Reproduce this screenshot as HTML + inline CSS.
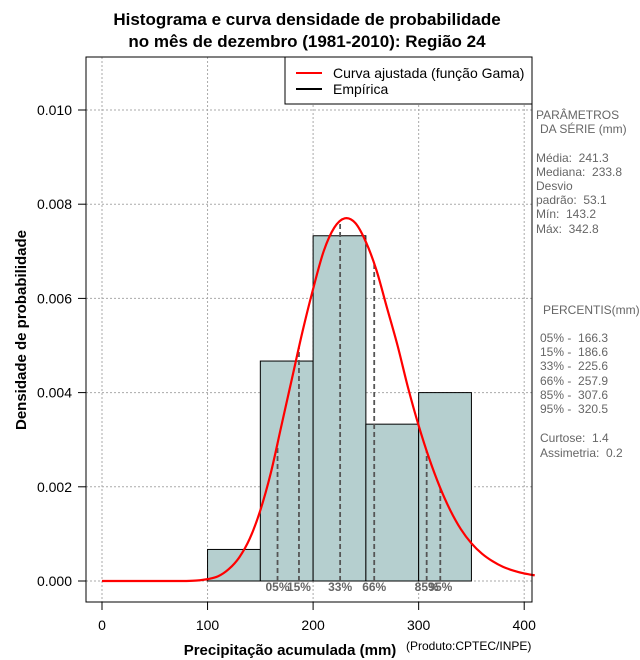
<!DOCTYPE html>
<html><head><meta charset="utf-8"><style>
body{margin:0;background:#fff;}
svg{display:block;font-family:"Liberation Sans",sans-serif;}
text{white-space:pre;}
</style></head><body>
<svg id="c" width="640" height="660">
<text x="307" y="25" text-anchor="middle" font-size="17" font-weight="bold">Histograma e curva densidade de probabilidade</text>
<text x="307" y="47" text-anchor="middle" font-size="17" font-weight="bold">no mês de dezembro (1981-2010): Região 24</text>
<g id="grid"></g><g id="bars"></g><g id="pct"></g><g id="curve"></g><g id="axes"></g>
<rect x="86" y="57" width="446" height="545" fill="none" stroke="#000"/>
<g>
<rect x="285" y="57" width="247" height="47" fill="#fff" stroke="#000"/>
<line x1="296" y1="73" x2="322" y2="73" stroke="red" stroke-width="2"/>
<text x="333" y="78" font-size="14">Curva ajustada (função Gama)</text>
<line x1="296" y1="89" x2="322" y2="89" stroke="#000" stroke-width="2"/>
<text x="333" y="94" font-size="14">Empírica</text>
</g>
<g font-size="12" fill="#666">
<text x="536" y="119">PARÂMETROS</text><text x="540" y="133">DA SÉRIE (mm)</text>
<text x="536" y="162">Média:  241.3</text><text x="536" y="176">Mediana:  233.8</text>
<text x="536" y="190">Desvio</text><text x="536" y="204">padrão:  53.1</text>
<text x="536" y="218">Mín:  143.2</text><text x="536" y="233">Máx:  342.8</text>
<text x="543" y="314">PERCENTIS(mm)</text>
<text x="540" y="342">05% -  166.3</text><text x="540" y="356">15% -  186.6</text>
<text x="540" y="370">33% -  225.6</text><text x="540" y="385">66% -  257.9</text>
<text x="540" y="399">85% -  307.6</text><text x="540" y="413">95% -  320.5</text>
<text x="540" y="442">Curtose:  1.4</text><text x="540" y="457">Assimetria:  0.2</text>
</g>
<text x="290" y="655" text-anchor="middle" font-size="15" font-weight="bold">Precipitação acumulada (mm)</text>
<text x="406" y="650" font-size="12">(Produto:CPTEC/INPE)</text>
<text transform="translate(26,330) rotate(-90)" text-anchor="middle" font-size="15" font-weight="bold">Densidade de probabilidade</text>
</svg>
<script>
const binStarts=[100,150,200,250,300];
const binWidth=50;
const binDensity=[0.00067,0.00467,0.00733,0.00333,0.004];
const curveX=[0,10,20,30,40,50,60,70,80,90,100,110,120,130,140,150,160,170,180,190,200,210,220,230,240,250,260,270,280,290,300,310,320,330,340,350,360,370,380,390,400,410];
const curveY=[0,0,0,0,0,0,0,0,0,0.00001,0.00004,0.0001,0.00025,0.0005,0.0009,0.0015,0.0023,0.0033,0.0043,0.0053,0.0062,0.007,0.0075,0.0077,0.0076,0.0072,0.0066,0.0058,0.005,0.0041,0.0033,0.0026,0.002,0.0015,0.0011,0.0008,0.00058,0.00042,0.0003,0.00022,0.00016,0.00012];
const pctLabels=["05%","15%","33%","66%","85%","95%"];
const pctValues=[166.3,186.6,225.6,257.9,307.6,320.5];
const xTicks=[0,100,200,300,400];
const yTicks=[0,0.002,0.004,0.006,0.008,0.010];
const yTickLabels=["0.000","0.002","0.004","0.006","0.008","0.010"];
const NS="http://www.w3.org/2000/svg";
const X=v=>102+v*1.0555, Y=v=>581-v*47100;
function mk(p,t,a){const e=document.createElementNS(NS,t);for(const k in a)e.setAttribute(k,a[k]);document.getElementById(p).appendChild(e);return e;}
xTicks.forEach(t=>{const g=mk('grid','line',{x1:X(t),x2:X(t),y1:57,y2:602,stroke:'#aaa','stroke-dasharray':'2,2'});


mk('axes','line',{x1:X(t),x2:X(t),y1:602,y2:610,stroke:'#000'});
const l=mk('axes','text',{x:X(t),y:630,'text-anchor':'middle','font-size':14});l.textContent=t;

});
yTicks.forEach((t,i)=>{const g=mk('grid','line',{x1:86,x2:532,y1:Y(t),y2:Y(t),stroke:'#aaa','stroke-dasharray':'2,2'});


mk('axes','line',{x1:78,x2:86,y1:Y(t),y2:Y(t),stroke:'#000'});
const l=mk('axes','text',{x:72,y:Y(t)+5,'text-anchor':'end','font-size':14});l.textContent=yTickLabels[i];

});
binStarts.forEach((b,i)=>{const r=mk('bars','rect',{x:X(b),y:Y(binDensity[i]),width:X(b+binWidth)-X(b),height:Y(0)-Y(binDensity[i]),fill:'#b5cfcf',stroke:'#000'});

});
mk('bars','line',{x1:X(100),x2:X(350),y1:Y(0),y2:Y(0),stroke:'#000','stroke-dasharray':'1,2'});
function interp(v){for(let i=1;i<curveX.length;i++)if(v<=curveX[i]){const f=(v-curveX[i-1])/(curveX[i]-curveX[i-1]);return curveY[i-1]+f*(curveY[i]-curveY[i-1]);}return 0;}
pctValues.forEach((v,i)=>{const l=mk('pct','line',{x1:X(v),x2:X(v),y1:Y(0),y2:Y(interp(v)),stroke:'#555','stroke-width':1.8,'stroke-dasharray':'5,3'});


const t=mk('pct','text',{x:X(v),y:591,'text-anchor':'middle','font-size':12,'font-weight':'bold',fill:'#666'});t.textContent=pctLabels[i];

});
const pts=curveX.map((x,i)=>[X(x),Y(curveY[i])]);
let d='M'+pts[0][0]+','+pts[0][1];
for(let i=0;i<pts.length-1;i++){const p0=pts[Math.max(0,i-1)],p1=pts[i],p2=pts[i+1],p3=pts[Math.min(pts.length-1,i+2)];
d+=' C'+(p1[0]+(p2[0]-p0[0])/6)+','+(p1[1]+(p2[1]-p0[1])/6)+' '+(p2[0]-(p3[0]-p1[0])/6)+','+(p2[1]-(p3[1]-p1[1])/6)+' '+p2[0]+','+p2[1];}
const p=mk('curve','path',{d:d,fill:'none',stroke:'red','stroke-width':2.2});


</script>
</body></html>
